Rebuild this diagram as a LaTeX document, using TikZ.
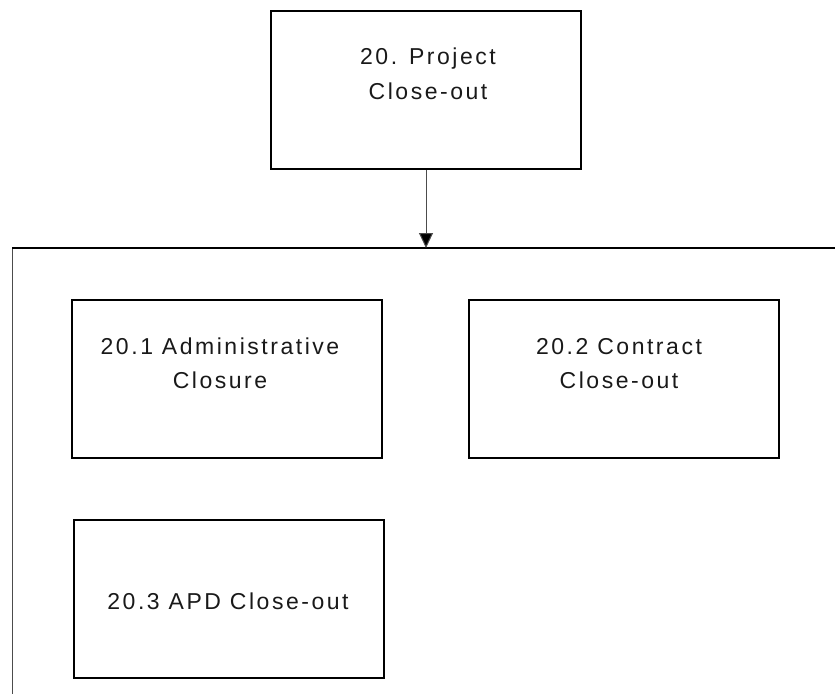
\documentclass[tikz,border=0pt]{standalone}
\usepackage{fontspec}
\setmainfont{Liberation Sans}[LetterSpace=11]
\usetikzlibrary{arrows.meta}
\begin{document}
\begin{tikzpicture}[x=1pt,y=-1pt,
  box/.style={draw=black,line width=2pt,rectangle,minimum width=310pt,minimum height=158pt,inner sep=0pt},
  lbl/.style={anchor=base,inner sep=0pt,font=\fontsize{23}{35}\selectfont,text=black!90},
  thin/.style={draw=black!70,line width=1pt}]
\useasboundingbox (0,0) rectangle (835,694);
% boxes
\node[box] (p)  at (426,90)    {};
\node[box] (a1) at (226.5,378.5) {};
\node[box] (a2) at (623.5,378.5) {};
\node[box] (a3) at (228.5,598.5) {};
% labels
\node[lbl] (p1) at (428,64) {20. Project};
\node[lbl] (p2) at (428,99) {Close-out};
\node[lbl] (l11) at (220,354) {20.1 Administrative};
\node[lbl] (l12) at (220,388) {Closure};
\node[lbl] (l21) at (619,354) {20.2 Contract};
\node[lbl] (l22) at (619,388) {Close-out};
\node[lbl] (l3) at (228,609) {20.3 APD Close-out};
% bus line
\coordinate (hl) at (12,248);
\coordinate (hr) at (835,248);
\coordinate (vb) at (12,694);
\coordinate (tip) at (426,248);
\draw[line width=2pt,black] (hl) -- (hr);
\draw[thin] (12,249) -- (vb);
\draw[thin,-{Triangle[width=14pt,length=15pt,fill=black]}] (p.south) -- (tip);
\end{tikzpicture}
\end{document}
